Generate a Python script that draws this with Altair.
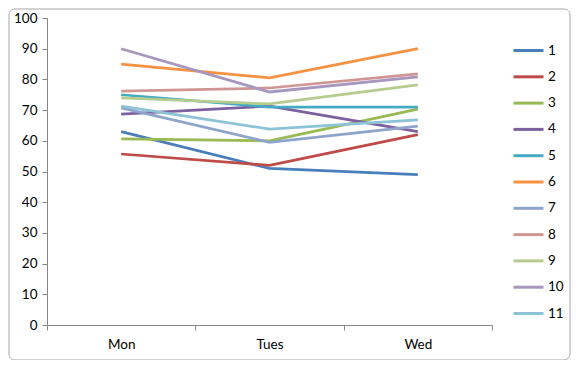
import altair as alt
import pandas as pd

days = ["Mon", "Tues", "Wed"]
series_names = ["1", "2", "3", "4", "5", "6", "7", "8", "9", "10", "11"]
s1 = [63, 51, 49]
s2 = [55.7, 52, 62]
s3 = [60.6, 60, 70.3]
s4 = [68.7, 71.3, 63]
s5 = [75, 71, 71]
s6 = [85, 80.5, 90]
s7 = [70.7, 59.5, 64.8]
s8 = [76.2, 77.2, 81.8]
s9 = [74, 72, 78.2]
s10 = [90, 75.9, 80.8]
s11 = [71.3, 63.8, 66.8]
colors = ["#4A7EBB", "#BE4B48", "#98B954", "#7D60A0", "#46AAC5", "#F69240",
          "#8EA5CB", "#D09693", "#B5CC8E", "#A797BE", "#8CC3D6"]

all_series = [s1, s2, s3, s4, s5, s6, s7, s8, s9, s10, s11]
rows = []
for i, (name, vals) in enumerate(zip(series_names, all_series)):
    for d, v in zip(days, vals):
        rows.append({"series": name, "day": d, "value": v, "order": i})
df = pd.DataFrame(rows)

FONT = "Lato"

lines = alt.Chart(df).mark_line(strokeWidth=2.75).encode(
    x=alt.X("day:N", sort=days, title=None,
            scale=alt.Scale(paddingInner=0, paddingOuter=0),
            axis=alt.Axis(tickBand="extent", labelAngle=0, domainColor="#868686",
                          tickColor="#868686", tickSize=5, labelPadding=7,
                          labelFont=FONT, labelFontSize=13.5, labelColor="#000000",
                          grid=False)),
    y=alt.Y("value:Q", title=None,
            scale=alt.Scale(domain=[0, 100], nice=False),
            axis=alt.Axis(values=list(range(0, 101, 10)), domainColor="#868686",
                          tickColor="#868686", tickSize=5, labelPadding=5,
                          labelFont=FONT, labelFontSize=13.5, labelColor="#000000",
                          grid=False)),
    color=alt.Color("series:N", sort=series_names,
                    scale=alt.Scale(domain=series_names, range=colors),
                    legend=alt.Legend(title=None, orient="none", legendX=465, legendY=16,
                                      symbolType="stroke", symbolSize=900,
                                      symbolStrokeWidth=3, rowPadding=3.3,
                                      labelFont=FONT, labelFontSize=13.5,
                                      labelColor="#000000", labelOffset=3)),
    order=alt.Order("order:Q"),
)

border = alt.Chart(pd.DataFrame({"a": [0]})).mark_rect(
    fill=None, stroke="#A6A6A6", strokeWidth=1, cornerRadius=6, clip=False
).encode(
    x=alt.value(-38), x2=alt.value(523), y=alt.value(-9), y2=alt.value(342)
)

chart = alt.layer(border, lines).properties(
    width=445, height=307,
    background="white",
    autosize=alt.AutoSizeParams(type="none"),
    padding={"left": 39, "top": 10, "right": 79, "bottom": 35},
).configure_view(strokeWidth=0, stroke=None)

chart.save("out.html", embed_options={"renderer": "svg", "actions": False})
